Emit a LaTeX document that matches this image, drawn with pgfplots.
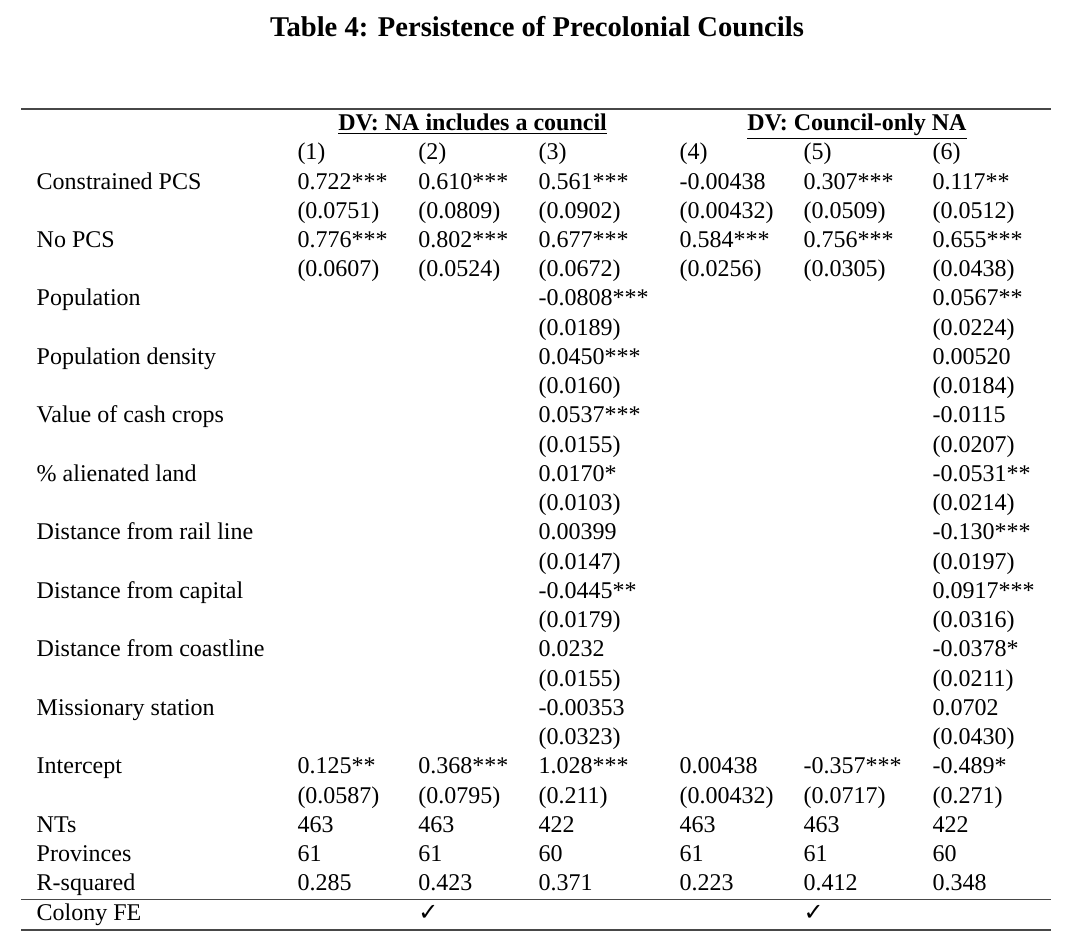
\documentclass[border=0pt]{standalone}
\usepackage{pgfplots}
\usepackage{pgfplotstable}
\usepackage{fontspec}
\setmainfont{Liberation Serif}
\newfontfamily\dejavu{DejaVu Sans}
\pgfplotsset{compat=1.18}

% row index: -1 = column numbers, 0.. = table rows (baseline y = 189 + 29.24*row, in px)
\pgfplotstableread[col sep=comma]{
row,label
0,Constrained PCS
2,No PCS
4,Population
6,Population density
8,Value of cash crops
10,\% alienated land
12,Distance from rail line
14,Distance from capital
16,Distance from coastline
18,Missionary station
20,Intercept
22,NTs
23,Provinces
24,R-squared
25,Colony FE
}\labels

\pgfplotstableread[col sep=comma]{
row,label
-1,(1)
0,0.722***
1,(0.0751)
2,0.776***
3,(0.0607)
20,0.125**
21,(0.0587)
22,463
23,61
24,0.285
}\colA

\pgfplotstableread[col sep=comma]{
row,label
-1,(2)
0,0.610***
1,(0.0809)
2,0.802***
3,(0.0524)
20,0.368***
21,(0.0795)
22,463
23,61
24,0.423
25,{\dejavu ✓}
}\colB

\pgfplotstableread[col sep=comma]{
row,label
-1,(3)
0,0.561***
1,(0.0902)
2,0.677***
3,(0.0672)
4,-0.0808***
5,(0.0189)
6,0.0450***
7,(0.0160)
8,0.0537***
9,(0.0155)
10,0.0170*
11,(0.0103)
12,0.00399
13,(0.0147)
14,-0.0445**
15,(0.0179)
16,0.0232
17,(0.0155)
18,-0.00353
19,(0.0323)
20,1.028***
21,(0.211)
22,422
23,60
24,0.371
}\colC

\pgfplotstableread[col sep=comma]{
row,label
-1,(4)
0,-0.00438
1,(0.00432)
2,0.584***
3,(0.0256)
20,0.00438
21,(0.00432)
22,463
23,61
24,0.223
}\colD

\pgfplotstableread[col sep=comma]{
row,label
-1,(5)
0,0.307***
1,(0.0509)
2,0.756***
3,(0.0305)
20,-0.357***
21,(0.0717)
22,463
23,61
24,0.412
25,{\dejavu ✓}
}\colE

\pgfplotstableread[col sep=comma]{
row,label
-1,(6)
0,0.117**
1,(0.0512)
2,0.655***
3,(0.0438)
4,0.0567**
5,(0.0224)
6,0.00520
7,(0.0184)
8,-0.0115
9,(0.0207)
10,-0.0531**
11,(0.0214)
12,-0.130***
13,(0.0197)
14,0.0917***
15,(0.0316)
16,-0.0378*
17,(0.0211)
18,0.0702
19,(0.0430)
20,-0.489*
21,(0.271)
22,422
23,60
24,0.348
}\colF

\pgfplotsset{
  tcol/.style={draw=none, mark=none, nodes near coords, point meta=explicit symbolic,
    nodes near coords align={anchor=base west},
    every node near coord/.append style={anchor=base west, inner sep=0pt, outer sep=0pt,
      font=\fontsize{12}{14}\selectfont, text=black}},
  trule/.style={draw=black!72, line width=0.6pt, mark=none, forget plot},
}

\begin{document}
\begin{tikzpicture}
\begin{axis}[
  scale only axis, width=540pt, height=471pt,
  xmin=0, xmax=1080, ymin=0, ymax=942, y dir=reverse,
  hide axis, clip=false,
]
\addplot[draw=none, mark=none, forget plot] coordinates {(0,0) (1080,942)};

% title and group headers
\node[anchor=base, inner sep=0pt, font=\fontsize{14.3}{17}\selectfont\bfseries] at (axis cs:537,36.7)
  {Table 4: Persistence of Precolonial Councils};
\node[anchor=base west, inner sep=0pt, font=\fontsize{12}{14}\selectfont\bfseries] at (axis cs:338,130.5)
  {\underline{DV: NA includes a council}};
\node[anchor=base west, inner sep=0pt, font=\fontsize{12}{14}\selectfont\bfseries] at (axis cs:747,130.5)
  {\underline{DV: Council-only NA}};

% rules
\addplot[trule] coordinates {(21,109) (1051,109)};
\addplot[trule] coordinates {(21,899.3) (1051,899.3)};
\addplot[trule] coordinates {(21,930) (1051,930)};

% columns
\addplot[tcol] table[x expr=36.7, y expr={189+29.24*\thisrow{row}}, meta=label]{\labels};
\addplot[tcol] table[x expr=297.5, y expr={189+29.24*\thisrow{row}}, meta=label]{\colA};
\addplot[tcol] table[x expr=418.3, y expr={189+29.24*\thisrow{row}}, meta=label]{\colB};
\addplot[tcol] table[x expr=538.5, y expr={189+29.24*\thisrow{row}}, meta=label]{\colC};
\addplot[tcol] table[x expr=679.5, y expr={189+29.24*\thisrow{row}}, meta=label]{\colD};
\addplot[tcol] table[x expr=803.5, y expr={189+29.24*\thisrow{row}}, meta=label]{\colE};
\addplot[tcol] table[x expr=932.5, y expr={189+29.24*\thisrow{row}}, meta=label]{\colF};
\end{axis}
\end{tikzpicture}
\end{document}
